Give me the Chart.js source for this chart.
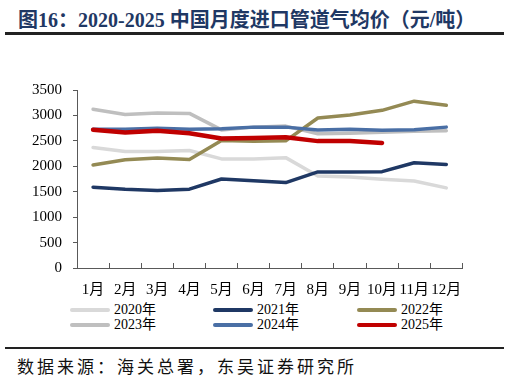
<!DOCTYPE html>
<html>
<head>
<meta charset="utf-8">
<script src="https://cdn.jsdelivr.net/npm/chart.js@4/dist/chart.umd.min.js"></script>
<style>
  html,body{margin:0;padding:0;background:#fff;}
  body{width:510px;height:381px;position:relative;overflow:hidden;}
  #title{position:absolute;left:18px;top:4px;font:bold 20px "Liberation Serif","Noto Sans CJK SC";color:#1f3864;white-space:nowrap;}
  .rule{position:absolute;left:5px;width:499px;background:#222;}
  #wrap{position:absolute;left:0;top:70px;}
  #legend{position:absolute;left:0;top:302px;width:510px;height:40px;font:14px "Liberation Serif","Noto Sans CJK SC";color:#000;}
  .lg{position:absolute;white-space:nowrap;line-height:16px;}
  .lg i{position:absolute;left:0;top:6px;width:40px;height:4px;border-radius:2px;}
  .lg span{position:absolute;left:44px;top:0;}
  #source{position:absolute;left:17px;top:353px;font:17px "Noto Sans CJK SC";letter-spacing:3px;color:#111;white-space:nowrap;}
</style>
</head>
<body>
<div id="title">图16：2020-2025 中国月度进口管道气均价（元/吨）</div>
<div class="rule" style="top:32px;height:2.5px"></div>
<div id="wrap"><canvas id="chart" width="480" height="230"></canvas></div>
<div id="legend"></div>
<div class="rule" style="top:347px;height:2px"></div>
<div id="source">数据来源：海关总署，东吴证券研究所</div>
<script>
'use strict';
const months=['1月','2月','3月','4月','5月','6月','7月','8月','9月','10月','11月','12月'];
const yTicks=[0,500,1000,1500,2000,2500,3000,3500];
const y2020=[2370,2290,2290,2310,2145,2145,2170,1810,1790,1745,1710,1575];
const y2021=[1590,1550,1525,1550,1750,1715,1680,1890,1890,1895,2070,2035];
const y2022=[2025,2130,2165,2135,2505,2490,2500,2950,3010,3100,3280,3200];
const y2023=[3120,3020,3050,3040,2715,2770,2790,2640,2650,2670,2690,2700];
const y2024=[2730,2730,2750,2730,2740,2770,2770,2715,2730,2710,2720,2770];
const y2025=[2720,2665,2700,2650,2545,2555,2570,2495,2495,2460];

const series=[
  {label:'2020年',data:y2020,color:'#d9d9d9',width:3.5,order:5},
  {label:'2021年',data:y2021,color:'#1f3864',width:3.5,order:3},
  {label:'2022年',data:y2022,color:'#948a54',width:3.5,order:2},
  {label:'2023年',data:y2023,color:'#bfbfbf',width:3.5,order:4},
  {label:'2024年',data:y2024,color:'#4a6fa5',width:3.5,order:1},
  {label:'2025年',data:y2025,color:'#c00000',width:4.5,order:0}
];

const $=id=>document.getElementById(id);
const axisColor='#595959';
const tickFont={family:'Liberation Serif, Noto Sans CJK SC',size:15};

new Chart($('chart'),{
  type:'line',
  data:{labels:months,datasets:series.map(s=>({label:s.label,data:s.data,borderColor:s.color,backgroundColor:s.color,
    borderWidth:s.width,pointRadius:0,tension:0,fill:false,order:s.order,borderCapStyle:'round',borderJoinStyle:'round'}))},
  options:{
    responsive:false,animation:false,
    layout:{padding:{top:10,right:17,left:0,bottom:0}},
    plugins:{legend:{display:false},tooltip:{enabled:false}},
    scales:{
      x:{offset:true,
        grid:{display:true,offset:true,drawOnChartArea:false,drawTicks:true,tickLength:-5,color:axisColor},
        border:{display:true,color:axisColor,width:1},
        ticks:{font:tickFont,color:'#000',maxRotation:0,autoSkip:false,padding:18},
        afterFit:s=>{s.height=32;}},
      y:{min:0,max:3500,afterBuildTicks:s=>{s.ticks=yTicks.map(v=>({value:v}));},
        grid:{drawOnChartArea:false,drawTicks:true,tickLength:4,color:axisColor},
        border:{display:true,color:axisColor,width:1},
        ticks:{font:tickFont,color:'#000',padding:11,callback:v=>String(v)},
        afterFit:s=>{s.width=77;}}
    }
  }
});

// legend in three columns, two rows
const cols=[70,213,357], rows=[0,15];
$('legend').innerHTML=series.map((s,i)=>
  `<div class="lg" style="left:${cols[i%3]}px;top:${rows[Math.floor(i/3)]}px"><i style="background:${s.color}"></i><span>${s.label}</span></div>`).join('');
</script>
</body>
</html>
